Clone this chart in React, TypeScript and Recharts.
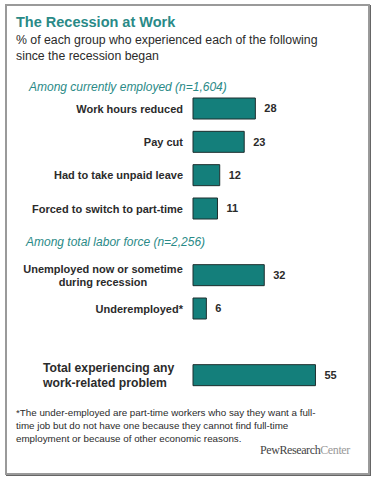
import { BarChart, Bar, XAxis, YAxis, LabelList } from "recharts";

const categories = [
  "Work hours reduced",
  "Pay cut",
  "Had to take unpaid leave",
  "Forced to switch to part-time",
  "Among total labor force (n=2,256)",
  "Unemployed now or sometime\nduring recession",
  "Underemployed*",
  "",
  "Total experiencing any\nwork-related problem",
];
const values: (number | null)[] = [28, 23, 12, 11, null, 32, 6, null, 55];

const headingRows = [4];
const totalRows = [8];

const TEAL = "#147f7b";
const TEXT = "#2b2b2b";
const FONT = "'Liberation Sans', Arial, sans-serif";

const data = categories.map((name, i) => ({ name, value: values[i] }));

function CategoryTick(props: any) {
  const { y, payload, index } = props;
  const label: string = payload.value || "";
  if (!label) return null;
  if (headingRows.includes(index)) {
    return (
      <text x={26} y={y} dy={4} fill="#2a8a87" fontStyle="italic" fontSize={12} fontFamily={FONT}>
        {label}
      </text>
    );
  }
  const lines = label.split("\n");
  if (totalRows.includes(index)) {
    return (
      <text x={43} y={y} fill={TEXT} fontSize={12.2} fontWeight="bold" fontFamily={FONT}>
        {lines.map((l, k) => (
          <tspan key={k} x={43} dy={k === 0 ? -3 : 15}>
            {l}
          </tspan>
        ))}
      </text>
    );
  }
  if (lines.length > 1) {
    return (
      <text x={103} y={y} fill={TEXT} fontSize={11} fontWeight="bold" fontFamily={FONT} textAnchor="middle">
        {lines.map((l, k) => (
          <tspan key={k} x={103} dy={k === 0 ? -2 : 12.5}>
            {l}
          </tspan>
        ))}
      </text>
    );
  }
  return (
    <text x={183} y={y} dy={4} fill={TEXT} fontSize={11} fontWeight="bold" fontFamily={FONT} textAnchor="end">
      {label}
    </text>
  );
}

export default function App() {
  return (
    <div
      style={{
        position: "absolute",
        left: 0,
        top: 0,
        width: 379,
        height: 481,
        background: "#fff",
        fontFamily: FONT,
      }}
    >
      <div
        style={{
          position: "absolute",
          left: 5,
          top: 4,
          width: 361,
          height: 467,
          border: "2px solid #9a9a9a",
          boxShadow: "1px 1px 0 #666",
        }}
      />
      <div style={{ position: "absolute", left: 16, top: 14, fontSize: 14.5, fontWeight: "bold", color: "#2a8a87" }}>
        The Recession at Work
      </div>
      <div style={{ position: "absolute", left: 16, top: 32, fontSize: 12.3, lineHeight: "16px", color: TEXT, width: 340 }}>
        % of each group who experienced each of the following
        <br />
        since the recession began
      </div>
      <div style={{ position: "absolute", left: 29, top: 80, fontSize: 12, fontStyle: "italic", color: "#2a8a87" }}>
        Among currently employed (n=1,604)
      </div>

      <div style={{ position: "absolute", left: 0, top: 0 }}>
        <BarChart
          width={379}
          height={400}
          data={data}
          layout="vertical"
          margin={{ top: 92, right: 19, bottom: 8, left: 0 }}
          barSize={21}
        >
          <XAxis type="number" domain={[0, 75]} hide />
          <YAxis
            type="category"
            dataKey="name"
            width={193}
            axisLine={false}
            tickLine={false}
            interval={0}
            tick={<CategoryTick />}
          />
          <Bar dataKey="value" fill={TEAL} stroke="#1d2e2e" strokeWidth={1} isAnimationActive={false}>
            <LabelList
              dataKey="value"
              position="right"
              offset={9}
              fill={TEXT}
              fontSize={11}
              fontWeight="bold"
              fontFamily={FONT}
              formatter={(v: any) => (v == null ? "" : v)}
            />
          </Bar>
        </BarChart>
      </div>

      <div
        style={{
          position: "absolute",
          left: 16,
          top: 406,
          width: 345,
          fontSize: 9.8,
          lineHeight: "13px",
          color: TEXT,
        }}
      >
        *The under-employed are part-time workers who say they want a full-
        <br />
        time job but do not have one because they cannot find full-time
        <br />
        employment or because of other economic reasons.
      </div>
      <div
        style={{
          position: "absolute",
          left: 260,
          top: 443,
          fontSize: 12,
          fontFamily: "'Liberation Serif', 'Times New Roman', serif",
          color: "#444",
          letterSpacing: -0.4,
        }}
      >
        PewResearch<span style={{ color: "#999" }}>Center</span>
      </div>
    </div>
  );
}
